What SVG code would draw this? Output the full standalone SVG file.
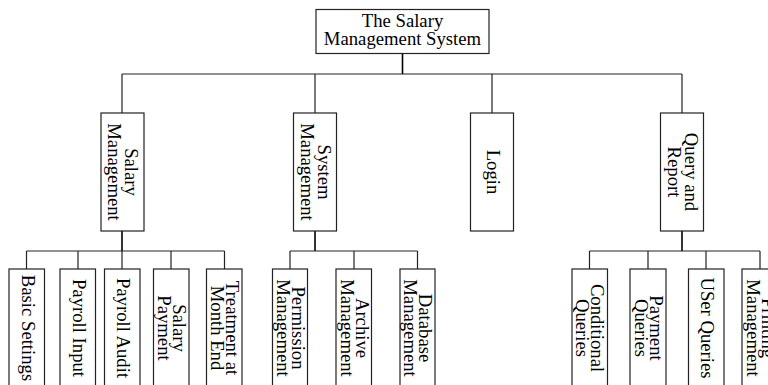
<svg xmlns="http://www.w3.org/2000/svg" width="768" height="385" viewBox="0 0 768 385">
  <style>
    .box { fill: #fff; stroke: #222; stroke-width: 1.2; }
    .wire { fill: none; stroke: #222; stroke-width: 1.2; }
    .stem { fill: none; stroke: #000; stroke-width: 1.6; }
    text { font-family: "Liberation Serif", "Times New Roman", serif; font-size: 18.7px; fill: #000; text-anchor: middle; }
  </style>
  <rect width="768" height="385" fill="#fff"/>

  <!-- connectors -->
  <g id="connectors">
    <path class="stem" d="M402.5 53 V74"/>
    <path class="wire" d="M122 74 H682 M122 74 V113 M315 74 V113 M492 74 V113 M682 74 V113"/>
    <!-- salary management branch -->
    <path class="stem" d="M122 231 V251"/>
    <path class="wire" d="M26.5 251 H224.5 M26.5 251 V269 M78 251 V269 M122 251 V269 M171 251 V269 M224.5 251 V269"/>
    <!-- system management branch -->
    <path class="stem" d="M315 231 V251"/>
    <path class="wire" d="M290 251 H417.5 M290 251 V269 M354 251 V269 M417.5 251 V269"/>
    <!-- query and report branch -->
    <path class="stem" d="M682 231 V251"/>
    <path class="wire" d="M589.5 251 H760 M589.5 251 V269 M648 251 V269 M706 251 V269 M760 251 V269"/>
  </g>

  <!-- root -->
  <g id="root">
    <rect class="box" x="316" y="9.5" width="173" height="44"/>
    <text x="402.5" y="27">The Salary</text>
    <text x="402.5" y="45">Management System</text>
  </g>

  <!-- second level -->
  <g id="salary-management">
    <rect class="box" x="101" y="113" width="43" height="118"/>
    <text transform="translate(122 172) rotate(90)"><tspan x="0" y="-2.5">Salary</tspan><tspan x="0" y="14.5">Management</tspan></text>
  </g>
  <g id="system-management">
    <rect class="box" x="293.5" y="113" width="43" height="118"/>
    <text transform="translate(315 172) rotate(90)"><tspan x="0" y="-2.5">System</tspan><tspan x="0" y="14.5">Management</tspan></text>
  </g>
  <g id="login">
    <rect class="box" x="470.5" y="113" width="43" height="118"/>
    <text transform="translate(492 172) rotate(90)" x="0" y="5">Login</text>
  </g>
  <g id="query-report">
    <rect class="box" x="660.5" y="113" width="43" height="118"/>
    <text transform="translate(682 172) rotate(90)"><tspan x="0" y="-2.5">Query and</tspan><tspan x="0" y="14.5">Report</tspan></text>
  </g>

  <!-- salary management children -->
  <g id="basic-settings">
    <rect class="box" x="9" y="269" width="35.5" height="118"/>
    <text transform="translate(26.5 328) rotate(90)" x="0" y="5">Basic Settings</text>
  </g>
  <g id="payroll-input">
    <rect class="box" x="60" y="269" width="35.5" height="118"/>
    <text transform="translate(78 328) rotate(90)" x="0" y="5">Payroll Input</text>
  </g>
  <g id="payroll-audit">
    <rect class="box" x="104.5" y="269" width="35.5" height="118"/>
    <text transform="translate(122 328) rotate(90)" x="0" y="5">Payroll Audit</text>
  </g>
  <g id="salary-payment">
    <rect class="box" x="153.5" y="269" width="35.5" height="118"/>
    <text transform="translate(171 328) rotate(90)"><tspan x="0" y="-1.5">Salary</tspan><tspan x="0" y="13.5">Payment</tspan></text>
  </g>
  <g id="month-end">
    <rect class="box" x="206.5" y="269" width="35.5" height="118"/>
    <text transform="translate(224.5 328) rotate(90)"><tspan x="0" y="-1.5">Treatment at</tspan><tspan x="0" y="13.5">Month End</tspan></text>
  </g>

  <!-- system management children -->
  <g id="permission-management">
    <rect class="box" x="272.5" y="269" width="35" height="118"/>
    <text transform="translate(290 328) rotate(90)"><tspan x="0" y="-1.5">Permission</tspan><tspan x="0" y="13.5">Management</tspan></text>
  </g>
  <g id="archive-management">
    <rect class="box" x="336" y="269" width="35.5" height="118"/>
    <text transform="translate(354 328) rotate(90)"><tspan x="0" y="-1.5">Archive</tspan><tspan x="0" y="13.5">Management</tspan></text>
  </g>
  <g id="database-management">
    <rect class="box" x="400" y="269" width="35" height="118"/>
    <text transform="translate(417.5 328) rotate(90)"><tspan x="0" y="-1.5">Database</tspan><tspan x="0" y="13.5">Management</tspan></text>
  </g>

  <!-- query and report children -->
  <g id="conditional-queries">
    <rect class="box" x="572" y="269" width="35.5" height="118"/>
    <text transform="translate(589.5 328) rotate(90)"><tspan x="0" y="-1.5">Conditional</tspan><tspan x="0" y="13.5">Queries</tspan></text>
  </g>
  <g id="payment-queries">
    <rect class="box" x="630" y="269" width="36" height="118"/>
    <text transform="translate(648 328) rotate(90)"><tspan x="0" y="-1.5">Payment</tspan><tspan x="0" y="13.5">Queries</tspan></text>
  </g>
  <g id="user-queries">
    <rect class="box" x="688.5" y="269" width="35.5" height="118"/>
    <text transform="translate(706 328) rotate(90)" x="0" y="5">USer Queries</text>
  </g>
  <g id="printing-management">
    <rect class="box" x="742" y="269" width="36" height="118"/>
    <text transform="translate(760 328) rotate(90)"><tspan x="0" y="-1.5">Printing</tspan><tspan x="0" y="13.5">Management</tspan></text>
  </g>
</svg>
